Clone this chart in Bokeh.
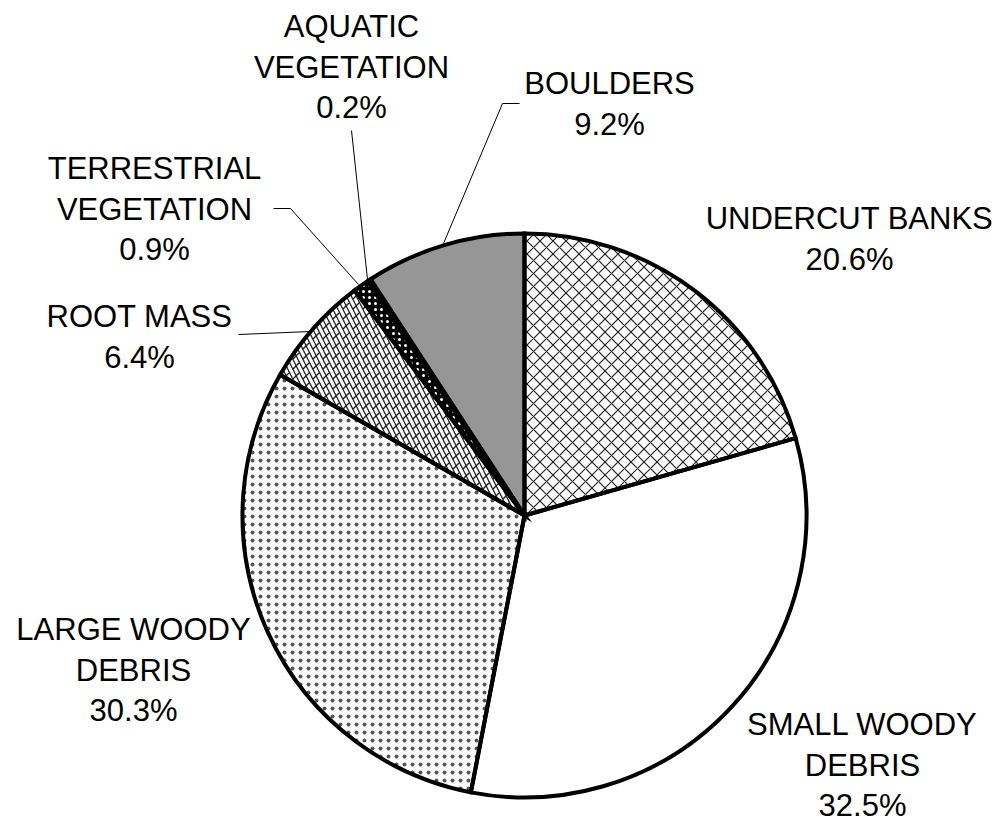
import math
from bokeh.plotting import figure
from bokeh.models import Range1d
from bokeh.core.properties import value
from bokeh.embed import file_html
from bokeh.resources import INLINE

# ---- data ----
categories = ["UNDERCUT BANKS", "SMALL WOODY DEBRIS", "LARGE WOODY DEBRIS", "ROOT MASS",
              "TERRESTRIAL VEGETATION", "AQUATIC VEGETATION", "BOULDERS"]
percents = [20.6, 32.5, 30.3, 6.4, 0.9, 0.2, 9.2]
label_lines = [["UNDERCUT BANKS"], ["SMALL WOODY", "DEBRIS"], ["LARGE WOODY", "DEBRIS"],
               ["ROOT MASS"], ["TERRESTRIAL", "VEGETATION"], ["AQUATIC", "VEGETATION"], ["BOULDERS"]]

# ---- styles / layout ----
W, H = 1005, 822
CX, CY, R = 524, 515, 282          # screen coords of pie
fills = ["white", "white", "white", "white", "black", "white", "#969696"]
hatches = [
    [("diagonal_cross", 13, 1.2, "#222222")],
    [],
    [("dot", 8, 1.8, "#555555")],
    [("left_diagonal_line", 10, 1.3, "#222222"), ("right_diagonal_dash", 10, 1.3, "#222222")],
    [("dot", 6, 3.0, "white")],
    [],
    [],
]
label_pos = [(849, 227), (862, 733), (133, 638), (139, 325), (154, 177), (351, 35), (609, 92)]
leaders = [None, None, None,
           [(310, 331), (238, 334)],
           [(358, 284), (290, 208), (273, 208)],
           [(367, 279), (351, 130)],
           [(443, 243), (502, 103), (519, 103)]]
LINE_STEP = 40.5
TEXT_SHIFT = -9
FONT = value("Liberation Sans")


def sy(y):
    return H - y


p = figure(width=W, height=H, x_range=Range1d(0, W), y_range=Range1d(0, H),
           output_backend="svg", toolbar_location=None, min_border=0)
p.axis.visible = False
p.grid.visible = False
p.outline_line_color = None
p.background_fill_color = "white"
p.border_fill_color = "white"

total = sum(percents)
cum = 0.0
for i, v in enumerate(percents):
    a0 = math.pi / 2 - 2 * math.pi * cum / total
    a1 = math.pi / 2 - 2 * math.pi * (cum + v) / total
    cum += v
    p.wedge(x=CX, y=sy(CY), radius=R, start_angle=a0, end_angle=a1, direction="clock",
            fill_color=fills[i], line_color=None)
    for (pat, sc, wt, col) in hatches[i]:
        p.wedge(x=CX, y=sy(CY), radius=R, start_angle=a0, end_angle=a1, direction="clock",
                fill_color=None, line_color=None, hatch_pattern=pat, hatch_scale=sc,
                hatch_weight=wt, hatch_color=col)

cum = 0.0
for i, v in enumerate(percents):
    a0 = math.pi / 2 - 2 * math.pi * cum / total
    a1 = math.pi / 2 - 2 * math.pi * (cum + v) / total
    cum += v
    p.wedge(x=CX, y=sy(CY), radius=R, start_angle=a0, end_angle=a1, direction="clock",
            fill_color=None, line_color="black", line_width=4, line_join="miter")

for i, v in enumerate(percents):
    lines = label_lines[i] + [f"{v}%"]
    x0, y0 = label_pos[i]
    for k, t in enumerate(lines):
        p.text(x=[x0], y=[sy(y0 + k * LINE_STEP + TEXT_SHIFT)], text=[t], text_font=FONT,
               text_font_size="31px", text_align="center", text_baseline="alphabetic",
               text_color="black")
    if leaders[i]:
        xs = [pt[0] for pt in leaders[i]]
        ys = [sy(pt[1]) for pt in leaders[i]]
        p.line(xs, ys, line_color="black", line_width=1)

open("out.html", "w").write(file_html(p, INLINE))
